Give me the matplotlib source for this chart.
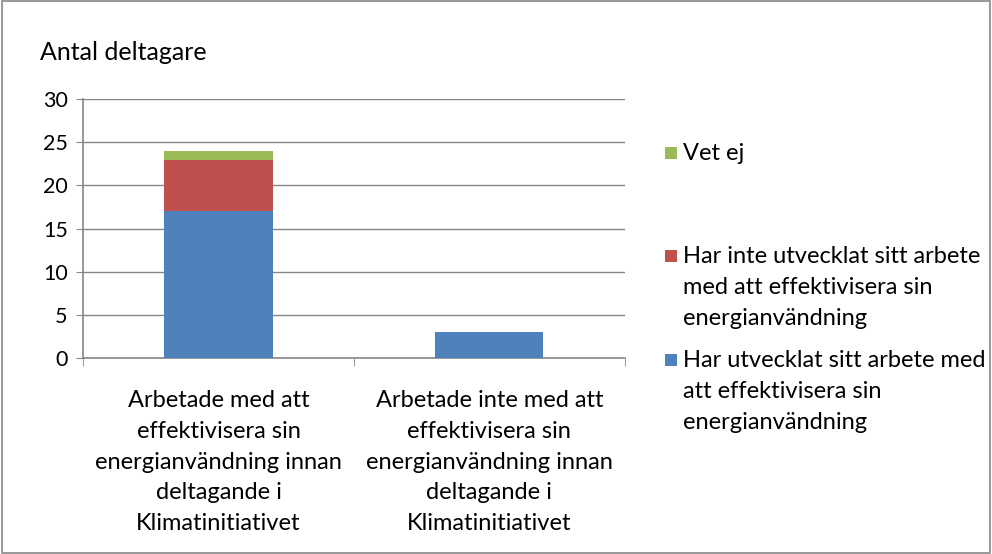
import matplotlib
matplotlib.use("Agg")
import matplotlib.pyplot as plt
from matplotlib.patches import Rectangle

plt.rcParams['font.family'] = ['Lato', 'DejaVu Sans']

categories = ["Arbetade med att\neffektivisera sin\nenergianvändning innan\ndeltagande i\nKlimatinitiativet",
              "Arbetade inte med att\neffektivisera sin\nenergianvändning innan\ndeltagande i\nKlimatinitiativet"]
series_names = ["Har utvecklat sitt arbete med\natt effektivisera sin\nenergianvändning",
                "Har inte utvecklat sitt arbete\nmed att effektivisera sin\nenergianvändning",
                "Vet ej"]
har_utvecklat = [17, 3]
har_inte = [6, 0]
vet_ej = [1, 0]
colors = ["#4F81BD", "#C0504D", "#9BBB59"]

fig = plt.figure(figsize=(9.92, 5.54), dpi=100)
fig.patches.append(Rectangle((0.002, 0.002), 0.996, 0.996, transform=fig.transFigure,
                             fill=False, edgecolor="#868686", linewidth=1.2))
ax = fig.add_axes([0.0837, 0.354, 0.546, 0.467])

x = [0, 1]
w = 0.4
bottom2 = [a + b for a, b in zip(har_utvecklat, har_inte)]
ax.bar(x, har_utvecklat, w, color=colors[0], zorder=3)
ax.bar(x, har_inte, w, bottom=har_utvecklat, color=colors[1], zorder=3)
ax.bar(x, vet_ej, w, bottom=bottom2, color=colors[2], zorder=3)

ax.set_xlim(-0.5, 1.5)
ax.set_ylim(0, 30)
ax.set_yticks(range(0, 31, 5))
ax.yaxis.grid(True, color="#868686", linewidth=1, zorder=0)
for s in ["top", "right"]:
    ax.spines[s].set_visible(False)
for s in ["left", "bottom"]:
    ax.spines[s].set_color("#868686")
    ax.spines[s].set_linewidth(1.2)
ax.tick_params(axis="y", length=5, color="#868686", labelsize=15.5, pad=6)
ax.set_xticks([-0.5, 0.5, 1.5], minor=True)
ax.set_xticks(x)
ax.set_xticklabels(categories, fontsize=17, linespacing=1.58)
ax.tick_params(axis="x", which="major", length=0, pad=23)
ax.tick_params(axis="x", which="minor", length=6, color="#868686", direction="out")

fig.text(0.04, 0.905, "Antal deltagare", fontsize=18, ha="left", va="center")

# legend entries (blue, red, green): center of first text line in pixels from top
leg_centers = [360, 256, 153]
for i in [2, 1, 0]:
    yc = 1 - leg_centers[i] / 554
    fig.patches.append(Rectangle((665/992, yc - 6/554), 12/992, 12/554, transform=fig.transFigure,
                                 facecolor=colors[i], edgecolor="none"))
    fig.text(683/992, yc + 10/554, series_names[i], fontsize=17, ha="left", va="top",
             linespacing=1.58)

fig.savefig("out.png", dpi=100)
